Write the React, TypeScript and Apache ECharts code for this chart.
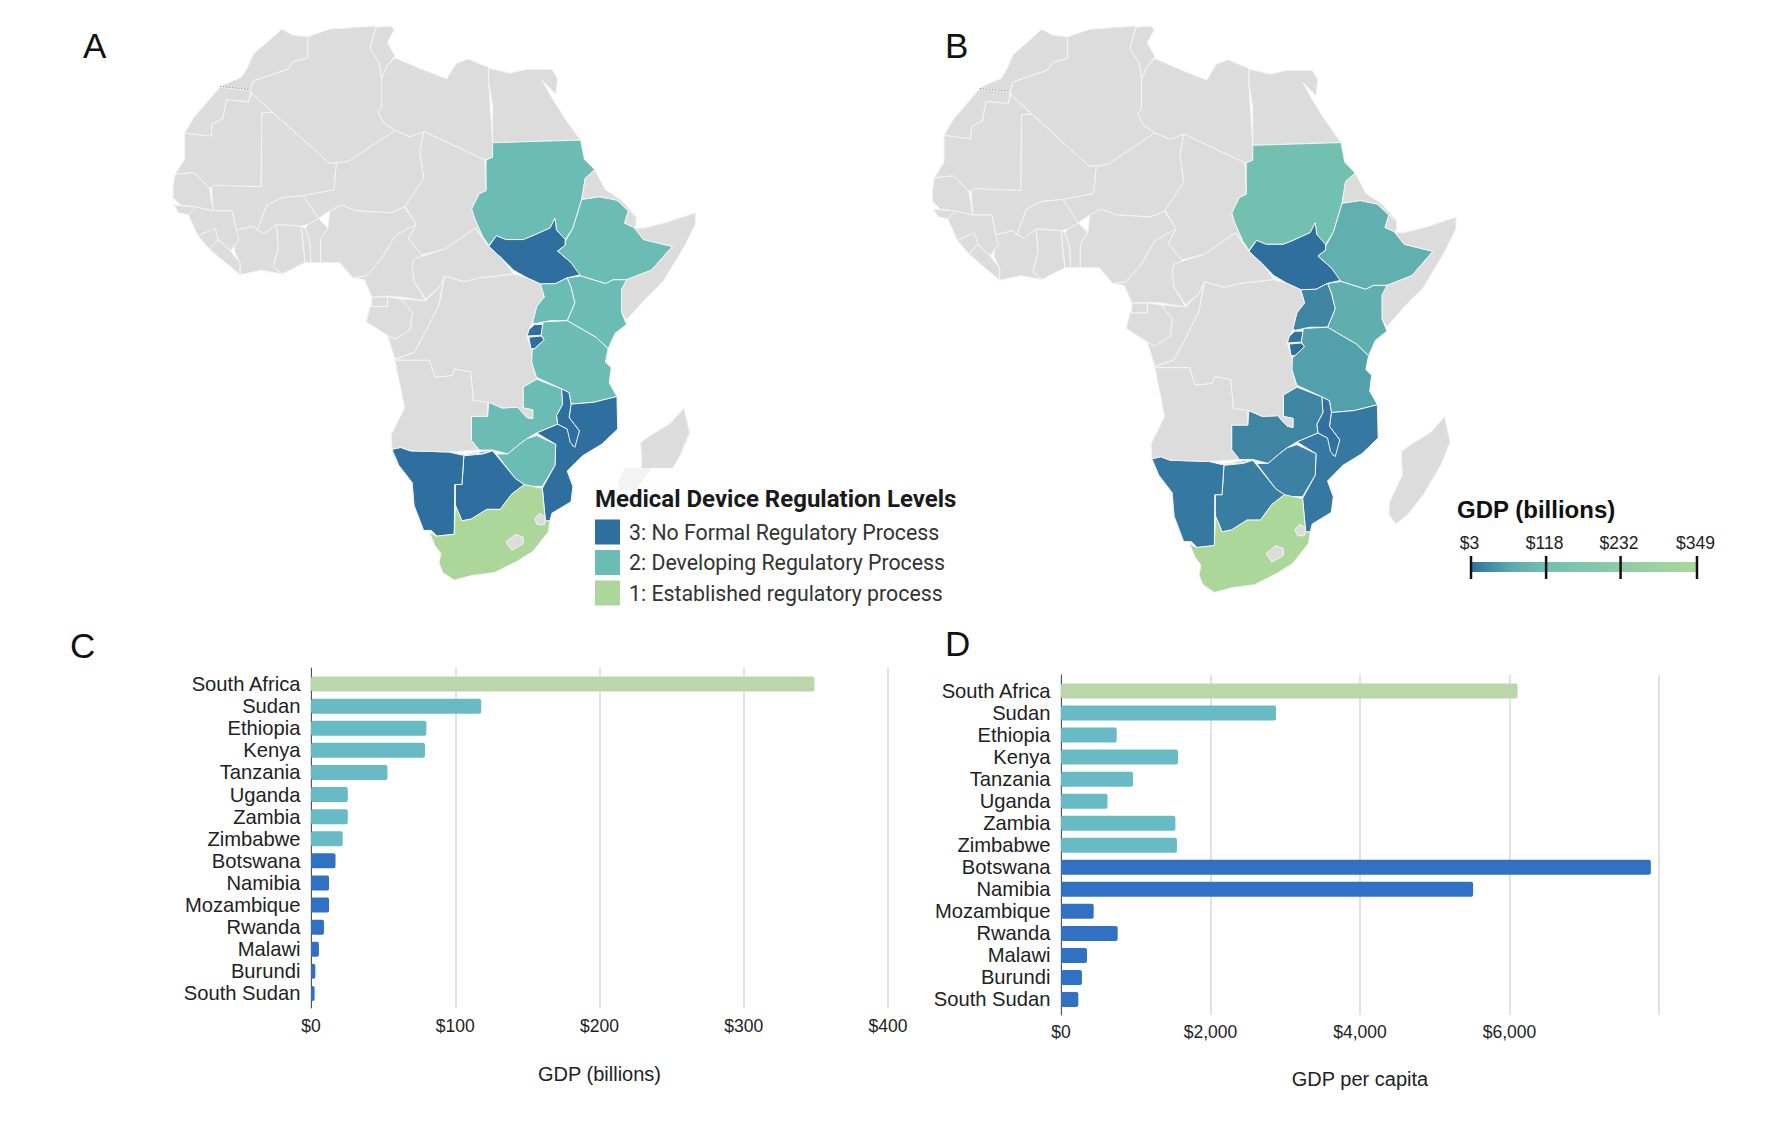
import React, { useEffect, useRef } from "react";
import * as echarts from "echarts";

// ---------- data ----------
const countries = ["South Africa","Sudan","Ethiopia","Kenya","Tanzania","Uganda","Zambia","Zimbabwe","Botswana","Namibia","Mozambique","Rwanda","Malawi","Burundi","South Sudan"];
const gdpBillions = [349,118,80,79,53,25.5,25.5,22,17,12.5,12.5,9,5.5,3,2.5];
const gdpPerCapita = [6108,2876,745,1565,963,622,1530,1551,7891,5513,437,758,348,280,232];
const regulationLevels = [1,2,2,2,2,2,2,2,3,3,3,3,3,3,3];
const levelLabels = ["1: Established regulatory process","2: Developing Regulatory Process","3: No Formal Regulatory Process"];
const levelValues = [1,2,3];
const gdpLegendTicks = [3,118,232,349];

// ---------- palette ----------
const mapLevelColor: Record<number,string> = {1:"#add69a",2:"#6abcb5",3:"#2f6f9f"};
const barLevelColor: Record<number,string> = {1:"#bcd6ac",2:"#68bbc5",3:"#3071c3"};
const gdpScale = ["#2e6f9e","#58a7ae","#72c0b0","#80c6ab","#8ecca6","#9dd2a0","#acd79a"];
const land = "#dcdcdc";

// ---------- outline of the continent (traced drawing units, y downwards) ----------
const shapes: Record<string, number[][]> = {
  Morocco:[[345,50],[372,65],[412,70],[412,125],[375,135],[360,155],[300,175],[270,185],[263,208],[183,200],[240,175],[255,150],[270,115],[300,90]],
  WesternSahara:[[183,202],[263,210],[258,240],[200,235],[190,285],[162,298],[160,330],[90,322],[115,280],[150,240]],
  Algeria:[[412,70],[470,50],[590,42],[575,100],[600,140],[605,180],[605,255],[595,265],[610,295],[640,315],[520,395],[487,400],[468,400],[265,218],[263,208],[270,185],[300,175],[360,155],[375,135],[412,125]],
  Tunisia:[[590,45],[630,42],[638,52],[620,85],[640,120],[620,145],[605,180],[600,140],[575,100]],
  Libya:[[640,125],[710,155],[775,180],[800,140],[830,128],[885,150],[885,190],[895,345],[895,385],[875,392],[715,318],[680,332],[640,315],[610,295],[595,265],[605,255],[605,180],[620,145]],
  Egypt:[[885,152],[940,165],[985,155],[1050,155],[1065,180],[1060,220],[1025,185],[1050,230],[1085,285],[1125,340],[895,347],[895,250],[885,190]],
  SudanShape:[[895,347],[1125,340],[1135,390],[1162,418],[1137,440],[1128,495],[1105,570],[1085,600],[1062,575],[1058,545],[1045,570],[1000,590],[975,600],[930,600],[905,590],[885,615],[868,590],[848,545],[840,520],[860,480],[878,472],[878,392],[895,385]],
  SouthSudanShape:[[885,618],[905,590],[930,600],[975,600],[1000,590],[1045,570],[1058,545],[1062,575],[1085,600],[1085,615],[1065,630],[1100,660],[1125,692],[1090,700],[1060,715],[1020,716],[985,700],[950,680],[920,650]],
  EthiopiaShape:[[1085,605],[1105,570],[1128,495],[1175,488],[1220,497],[1250,525],[1240,557],[1265,568],[1290,600],[1365,618],[1310,680],[1245,705],[1210,705],[1190,715],[1125,695],[1100,660],[1065,630],[1085,615]],
  Eritrea:[[1137,440],[1162,418],[1190,470],[1230,495],[1270,540],[1250,525],[1220,497],[1175,488],[1128,495]],
  Djibouti:[[1240,557],[1250,525],[1270,540],[1270,565],[1265,568]],
  Somalia:[[1265,570],[1290,570],[1350,555],[1425,530],[1425,560],[1395,620],[1340,710],[1290,760],[1245,810],[1232,790],[1232,730],[1245,705],[1310,680],[1365,618],[1290,600]],
  KenyaShape:[[1090,700],[1125,695],[1190,715],[1210,705],[1245,705],[1232,730],[1232,790],[1245,822],[1215,845],[1197,885],[1165,855],[1090,812],[1110,765],[1100,725]],
  UgandaShape:[[1020,716],[1060,715],[1090,700],[1100,725],[1110,765],[1090,812],[1045,812],[1005,820],[1000,815],[1010,775],[1030,750]],
  RwandaShape:[[990,835],[1005,822],[1027,822],[1022,850],[985,852]],
  BurundiShape:[[990,855],[1022,852],[1030,862],[1005,885],[995,885]],
  TanzaniaShape:[[1027,815],[1090,812],[1165,855],[1197,885],[1190,920],[1205,935],[1200,975],[1220,1010],[1160,1025],[1100,1030],[1095,1000],[1075,990],[1010,960],[997,920],[998,890],[1005,885],[1030,862],[1022,850]],
  MozambiqueShape:[[1220,1010],[1222,1095],[1180,1135],[1130,1165],[1090,1205],[1105,1245],[1100,1285],[1050,1315],[1045,1335],[1033,1335],[1025,1250],[1058,1190],[1060,1135],[1010,1105],[1065,1082],[1090,1095],[1100,1110],[1105,1140],[1122,1100],[1095,1065],[1100,1030],[1160,1025]],
  MalawiShape:[[1075,990],[1095,1000],[1100,1030],[1095,1065],[1122,1100],[1110,1143],[1098,1130],[1090,1095],[1065,1082],[1062,1060],[1078,1030]],
  ZambiaShape:[[975,985],[1010,965],[1075,990],[1078,1030],[1062,1060],[1065,1082],[1010,1105],[985,1120],[965,1135],[935,1160],[895,1150],[860,1150],[840,1125],[840,1062],[882,1062],[885,1025],[920,1040],[960,1038],[985,1065],[1000,1068],[1000,1045],[975,1040]],
  ZimbabweShape:[[905,1160],[935,1160],[965,1135],[985,1120],[1010,1112],[1060,1135],[1058,1190],[1025,1245],[985,1245],[955,1225]],
  BotswanaShape:[[820,1165],[870,1160],[895,1152],[910,1170],[955,1225],[978,1240],[945,1265],[915,1305],[880,1305],[840,1330],[815,1335],[798,1295],[798,1240],[815,1240]],
  NamibiaShape:[[632,1148],[655,1143],[680,1152],[780,1155],[815,1163],[895,1150],[870,1158],[820,1162],[815,1240],[796,1240],[795,1370],[750,1375],[735,1360],[715,1360],[690,1295],[685,1235],[650,1190]],
  SouthAfricaShape:[[730,1365],[748,1375],[795,1370],[798,1295],[815,1335],[840,1330],[880,1305],[915,1305],[945,1265],[978,1240],[1000,1245],[1025,1250],[1033,1335],[1045,1335],[1040,1365],[1000,1415],[960,1440],[900,1470],[840,1478],[795,1490],[765,1470],[755,1445],[760,1420],[745,1400]],
  Lesotho:[[930,1390],[955,1370],[975,1378],[975,1395],[945,1412]],
  Eswatini:[[1005,1330],[1018,1315],[1033,1325],[1030,1345],[1012,1345]],
  Angola:[[640,915],[730,915],[745,960],[790,955],[795,938],[838,945],[845,1020],[882,1022],[882,1062],[840,1062],[840,1125],[860,1150],[780,1155],[680,1152],[655,1143],[632,1148],[630,1110],[665,1040],[655,990]],
  DRC:[[635,915],[690,895],[720,840],[755,770],[770,695],[820,710],[860,700],[950,690],[985,700],[1020,716],[1030,750],[1010,775],[1000,815],[990,835],[985,852],[995,885],[998,890],[997,920],[1010,965],[975,985],[975,1040],[1000,1045],[1000,1068],[985,1065],[960,1038],[920,1040],[885,1025],[845,1020],[838,945],[795,938],[790,955],[745,960],[730,915]],
  Congo:[[620,850],[640,860],[680,835],[685,790],[655,755],[720,760],[755,725],[768,695],[755,770],[720,840],[690,895],[640,912]],
  Gabon:[[565,815],[575,775],[620,775],[620,750],[655,755],[685,790],[680,835],[640,860],[620,850]],
  EqGuinea:[[580,750],[620,750],[620,775],[578,775]],
  Cameroon:[[530,700],[565,695],[605,650],[640,590],[680,530],[695,560],[675,598],[710,640],[690,670],[690,710],[720,760],[655,750],[620,748],[580,750],[560,705]],
  CAR:[[690,650],[770,625],[850,570],[885,618],[920,650],[950,690],[860,700],[820,710],[770,695],[755,725],[720,755],[690,710],[685,670]],
  Chad:[[715,318],[875,392],[878,472],[860,480],[840,520],[848,545],[868,590],[850,570],[770,625],[710,640],[675,598],[695,560],[665,510],[715,440],[705,370]],
  Niger:[[640,315],[680,332],[715,318],[705,370],[715,440],[665,515],[630,530],[540,525],[500,510],[470,525],[440,545],[400,485],[480,470],[487,400],[520,395]],
  Nigeria:[[470,525],[500,510],[540,525],[630,530],[665,515],[695,560],[640,590],[605,650],[565,695],[530,700],[495,660],[445,660],[445,600],[465,570]],
  Benin:[[415,560],[440,545],[465,570],[445,600],[445,660],[420,660],[418,610],[405,570]],
  Togo:[[395,565],[405,570],[418,610],[420,660],[405,660]],
  Ghana:[[330,560],[395,565],[405,660],[345,690],[322,670],[335,620]],
  Burkina:[[280,575],[305,510],[345,490],[400,485],[440,545],[415,560],[395,565],[330,560],[300,585]],
  IvoryCoast:[[225,575],[270,565],[280,575],[300,585],[330,560],[335,620],[322,670],[345,690],[290,680],[235,692],[235,660],[220,630]],
  Mali:[[292,268],[320,268],[468,400],[487,400],[480,470],[400,485],[345,490],[305,510],[280,575],[270,565],[225,575],[215,525],[165,525],[160,455],[290,462]],
  Mauritania:[[90,322],[160,330],[162,298],[190,285],[200,235],[258,240],[265,218],[320,268],[292,268],[290,462],[170,458],[155,465],[115,425],[65,430],[90,390]],
  Senegal:[[65,430],[115,425],[155,465],[165,525],[120,515],[80,510],[60,490],[60,460]],
  GuineaBissau:[[62,510],[120,515],[100,535],[75,530]],
  Guinea:[[100,535],[120,515],[165,525],[215,525],[225,575],[232,600],[210,630],[180,600],[125,590]],
  SierraLeone:[[125,590],[170,570],[178,600],[155,625]],
  Liberia:[[155,625],[178,600],[210,630],[235,660],[235,692]],
  Madagascar:[[1395,1040],[1410,1105],[1385,1165],[1340,1240],[1300,1290],[1268,1315],[1250,1290],[1252,1258],[1285,1190],[1282,1130],[1310,1110],[1360,1080]],
};
const shapeToCountry: Record<string,string> = {
  SudanShape:"Sudan",SouthSudanShape:"South Sudan",EthiopiaShape:"Ethiopia",KenyaShape:"Kenya",UgandaShape:"Uganda",RwandaShape:"Rwanda",BurundiShape:"Burundi",TanzaniaShape:"Tanzania",MozambiqueShape:"Mozambique",MalawiShape:"Malawi",ZambiaShape:"Zambia",ZimbabweShape:"Zimbabwe",BotswanaShape:"Botswana",NamibiaShape:"Namibia",SouthAfricaShape:"South Africa",
};
const order = [...Object.keys(shapes).filter(k=>k!=="Lesotho"&&k!=="Eswatini"),"Lesotho","Eswatini"];
const makeGeo = () => ({
  type:"FeatureCollection",
  features:order.map(k=>{
    const ring = shapes[k].map(([x,y])=>[x,-y]);
    return {type:"Feature",properties:{name:shapeToCountry[k]||k},geometry:{type:"Polygon",coordinates:[[...ring,ring[0]]]}};
  }),
});
echarts.registerMap("africaRegulation",makeGeo() as any);
echarts.registerMap("africaGdp",makeGeo() as any);

const sans = "'Liberation Sans', Arial, sans-serif";
const ink = "#222222";

function bars(innerGrid:number,values:number[]){
  return {
    type:"bar",xAxisIndex:innerGrid,yAxisIndex:innerGrid,barWidth:15,silent:true,
    data:values.map((v,i)=>({value:v,itemStyle:{color:barLevelColor[regulationLevels[i]],borderRadius:2}})),
  };
}

function axesFor(grids:{outer:number,inner:number,max:number,interval:number,name:string,nameGap:number,labelMargin:number,hideTop?:boolean}){
  const {outer,inner,max,interval,name,nameGap,labelMargin,hideTop} = grids;
  return {
    x:[
      {gridIndex:outer,type:"value",min:0,max,interval,name,nameLocation:"middle",nameGap,
        nameTextStyle:{fontFamily:sans,fontSize:20,color:ink},
        axisLine:{show:false},axisTick:{show:false},
        axisLabel:{fontFamily:sans,fontSize:17.5,color:ink,margin:labelMargin,
          formatter:(v:number)=> (hideTop&&v===max)?"":"$"+v.toLocaleString("en-US")},
        splitLine:{show:true,lineStyle:{color:"#d9d9d9",width:1.5}}},
      {gridIndex:inner,type:"value",min:0,max,interval,show:false,splitLine:{show:false}},
    ],
    y:[
      {gridIndex:outer,type:"value",min:0,max:1,axisLine:{show:true,onZero:false,lineStyle:{color:"#555555",width:1}},axisTick:{show:false},axisLabel:{show:false},splitLine:{show:false}},
      {gridIndex:inner,type:"category",inverse:true,data:countries,axisLine:{show:false},axisTick:{show:false},
        axisLabel:{fontFamily:sans,fontSize:20.2,color:ink,margin:10.5,interval:0,padding:[0,0,4,0]}},
    ],
  };
}

export default function App(){
  const ref = useRef<HTMLDivElement>(null);
  useEffect(()=>{
    if(!ref.current) return;
    const chart = echarts.init(ref.current,undefined,{renderer:"svg"});
    const c = axesFor({outer:0,inner:1,max:400,interval:100,name:"GDP (billions)",nameGap:56,labelMargin:9});
    const d = axesFor({outer:2,inner:3,max:8000,interval:2000,name:"GDP per capita",nameGap:54,labelMargin:8,hideTop:true});
    const legendX = (v:number)=>1471+226*(v-3)/346;
    const letter = (text:string,x:number,y:number)=>({type:"text",x,y,z:10,style:{text,fontFamily:sans,fontSize:35,fill:"#111111",textVerticalAlign:"middle"}});
    const dotted = (x1:number,y1:number,x2:number,y2:number)=>({type:"line",z:10,shape:{x1,y1,x2,y2},style:{stroke:"#8f8f8f",lineWidth:1,lineDash:[1.5,1.5]}});
    const mapBase = {type:"map",silent:true,selectedMode:false,roam:false,label:{show:false},emphasis:{disabled:true},
      itemStyle:{areaColor:land,borderColor:"#f4f4f4",borderWidth:1}};
    chart.setOption({
      animation:false,
      backgroundColor:"#ffffff",
      grid:[
        {left:311,top:668,width:577,height:340},
        {left:311,top:673,width:577,height:331.5},
        {left:1061,top:675,width:598,height:340},
        {left:1061,top:680,width:598,height:330.5},
      ],
      xAxis:[...c.x,...d.x],
      yAxis:[...c.y,...d.y],
      visualMap:[
        {type:"piecewise",seriesIndex:0,left:580,top:504.5,orient:"vertical",itemWidth:25,itemHeight:25,itemGap:5.5,textGap:9,itemSymbol:"rect",hoverLink:false,selectedMode:false,
          textStyle:{fontFamily:"Roboto",fontSize:21.3,color:"#333333"},
          pieces:levelValues.map((v,i)=>({value:v,label:levelLabels[i],color:mapLevelColor[v]}))},
        {type:"continuous",seriesIndex:1,show:false,min:gdpLegendTicks[0],max:gdpLegendTicks[3],inRange:{color:gdpScale}},
      ],
      series:[
        {...mapBase,map:"africaRegulation",left:173,top:26,width:522.4,height:554.2,
          data:countries.map((name,i)=>({name,value:regulationLevels[i]}))},
        {...mapBase,map:"africaGdp",left:932.5,top:26,width:523.5,height:566.5,
          data:countries.map((name,i)=>({name,value:gdpBillions[i]}))},
        bars(1,gdpBillions),
        bars(3,gdpPerCapita),
      ],
      graphic:[
        {type:"rect",z:3,shape:{x:590,y:468,width:210,height:60},style:{fill:"#ffffff"}},
        {type:"polygon",z:3,shape:{points:[[625,468],[652,468],[635,490],[620,490],[618,482]]},style:{fill:"#f3f3f3"}},
        dotted(220,86.5,250.5,89.5),dotted(980,88.5,1010,91),
        letter("A",83,45),letter("B",945,45),letter("C",70,645),letter("D",945,643),
        {type:"text",x:595,y:499,z:10,style:{text:"Medical Device Regulation Levels",fontFamily:"Roboto",fontWeight:700,fontSize:24,fill:"#1a1a1a",textVerticalAlign:"middle"}},
        {type:"text",x:1457,y:509,z:10,style:{text:"GDP (billions)",fontFamily:sans,fontWeight:700,fontSize:24,fill:"#111111",textVerticalAlign:"middle"}},
        {type:"rect",z:9,shape:{x:1471,y:562,width:226,height:10},
          style:{fill:new echarts.graphic.LinearGradient(0,0,1,0,gdpScale.map((color,i)=>({offset:i/(gdpScale.length-1),color})))}},
        ...gdpLegendTicks.flatMap(v=>[
          {type:"line",z:10,shape:{x1:legendX(v),y1:556,x2:legendX(v),y2:579},style:{stroke:"#111111",lineWidth:2.5}},
          {type:"text",x:legendX(v)-1.5,y:543,z:10,style:{text:"$"+v,fontFamily:sans,fontSize:17.5,fill:ink,textAlign:"center",textVerticalAlign:"middle"}},
        ]),
      ],
    } as any);
    return ()=>chart.dispose();
  },[]);
  return <div ref={ref} style={{position:"absolute",left:0,top:0,width:1792,height:1126}}/>;
}
